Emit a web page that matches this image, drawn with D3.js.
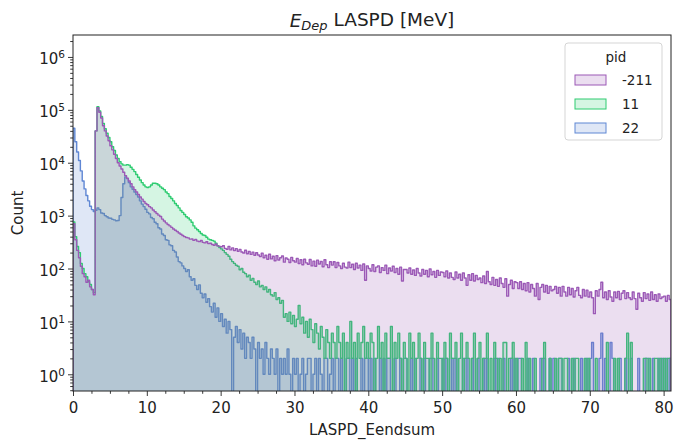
<!DOCTYPE html>
<html>
<head>
<meta charset="utf-8">
<script src="https://cdn.jsdelivr.net/npm/d3@7"></script>
<style>
body { margin: 0; background: #fff; }
text { font-family: "DejaVu Sans", sans-serif; fill: #222; }
</style>
</head>
<body>
<script>
// histogram bins: width 0.25 from 0 to 81
var binWidth = 0.25;
var xTicks = [0, 10, 20, 30, 40, 50, 60, 70, 80];
var yTicks = [1, 10, 100, 1000, 10000, 100000, 1000000];
var pids = ["-211", "11", "22"];
var colors = {"-211": "#9b59b6", "11": "#2ecc71", "22": "#5f87d4"};

var counts211 = [
  700,350,220,160,110,80,70,55,60,45,40,32,40000,110000,90000,70000,50000,40000,32000,26000,
  21000,17500,14500,12000,10000,8700,7600,6600,5700,5100,4500,4000,3500,3100,2800,2500,2250,2050,1850,1700,
  1600,1480,1400,1280,1180,1100,1020,960,860,790,730,680,640,600,560,530,500,470,445,420,
  400,385,380,360,362,340,355,330,322,338,312,305,320,296,300,285,276,290,268,262,
  258,270,240,232,262,225,245,218,238,212,230,205,196,222,190,210,185,204,178,198,
  180,168,195,160,178,150,186,152,170,140,175,145,160,172,132,158,150,130,162,140,
  132,155,124,146,118,150,128,120,148,112,138,110,144,122,136,108,146,118,104,134,
  116,134,104,130,112,100,126,106,102,132,104,120,96,126,102,116,92,122,60,112,
  100,90,118,88,106,112,84,104,92,116,80,102,90,110,84,100,78,106,58,96,
  96,82,102,78,94,74,100,82,72,96,78,92,70,98,76,88,68,92,74,86,
  84,70,90,66,82,68,62,86,66,78,60,82,66,48,76,60,80,58,74,62,
  66,54,72,52,88,56,50,68,48,62,46,66,52,44,64,30,50,60,42,56,
  54,42,56,40,52,38,54,36,50,42,30,52,26,44,50,36,48,34,46,38,
  40,46,34,44,30,46,36,30,44,32,42,29,38,44,31,28,40,30,39,29,
  36,28,14,38,30,40,55,28,36,26,38,29,24,36,28,37,26,34,38,27,
  35,28,26,36,27,17,34,28,24,35,27,33,25,36,26,32,24,33,27,29,
  30,24,31,26
];

var counts11 = [
  760,400,260,200,125,100,80,70,56,50,40,35,40000,115000,95000,75000,55000,44000,36000,30000,
  25000,20000,17000,14000,12000,10500,9500,9000,9000,9200,9000,8200,7500,6800,6000,5300,4700,4200,3800,3500,
  3400,3500,3800,4100,4100,4000,3800,3500,3300,3100,2800,2600,2300,2100,1900,1700,1550,1400,1250,1150,
  1050,950,900,830,750,640,580,540,500,460,430,420,390,360,350,340,330,300,270,250,
  235,220,200,185,170,150,135,125,115,110,95,100,85,80,70,75,60,65,55,50,
  58,45,48,40,45,36,40,32,30,35,26,28,22,25,12,14,10,15,9,13,
  8,11,20,9,12,6,10,5,11,7,4,9,6,3,8,5,2,7,4,2,
  6,4,2,8,4,2,6,0,4,2,10,2,4,0,6,2,4,8,2,4,
  2,6,4,0,2,8,2,4,0,6,2,2,8,0,4,2,6,2,0,4,
  2,0,6,2,4,0,2,6,2,0,4,2,2,0,6,2,0,4,2,2,
  0,4,2,0,6,2,2,4,0,2,6,0,2,4,2,0,2,6,0,2,
  4,0,2,2,6,0,2,0,4,2,0,2,0,4,4,0,2,2,4,0,
  2,0,0,2,0,4,0,2,0,0,2,0,0,0,2,4,0,0,2,0,
  0,2,0,2,2,0,2,2,0,0,2,0,2,2,0,0,0,2,0,2,
  0,0,0,2,0,0,0,0,0,4,0,0,0,2,0,2,0,0,0,2,
  6,0,4,0,0,0,0,0,0,2,2,0,2,0,0,2,2,0,2,0,
  2,0,2,2
];

var counts22 = [
  45000,25000,16000,11000,7000,4500,3200,2400,1900,1500,1300,1200,1260,1400,1300,1120,1100,1000,950,900,
  890,850,830,800,810,1000,2200,4000,5400,5000,4200,3500,3150,2800,2500,2250,1900,1650,1480,1320,
  1150,1080,920,870,750,700,590,560,450,420,350,340,280,270,220,205,165,135,128,112,
  100,88,95,70,60,64,48,40,49,34,28,33,23,27,19,15,22,12,18,10,
  14,8,11,6,10,7,0,5,8,4,7,3,6,2,5,4,2,5,3,0,
  4,2,3,1,4,2,1,3,2,1,3,0,2,1,2,1,3,1,0,2,
  1,2,0,1,2,0,1,2,2,0,1,2,0,2,1,0,2,2,0,1,
  2,0,2,2,0,2,0,0,2,2,0,2,0,2,0,0,2,0,2,2,
  0,2,0,2,0,0,2,0,2,0,2,2,0,0,2,0,0,2,0,2,
  2,0,0,2,0,2,0,0,2,0,2,0,0,2,2,0,0,2,0,0,
  2,0,2,0,0,2,0,2,0,0,0,2,0,2,0,0,2,0,0,2,
  0,0,2,0,2,0,0,0,2,0,2,0,0,2,0,0,0,2,0,2,
  0,2,2,0,0,0,2,0,0,2,0,0,0,2,0,2,0,0,2,0,
  2,0,0,2,2,0,0,0,2,0,0,2,0,0,0,2,0,0,2,0,
  2,4,0,0,0,2,6,0,2,0,0,4,2,0,0,0,2,0,0,2,
  0,0,2,0,0,0,2,0,0,0,2,2,0,0,2,0,0,2,0,2,
  0,2,0,2
];

var seriesCounts = {"-211": counts211, "11": counts11, "22": counts22};

//create svg
var svg = d3.select("body").append("svg")
    .attr("width", 675)
    .attr("height", 440);

var margin = {left: 73, right: 4, top: 35, bottom: 49};
var width = 675 - margin.left - margin.right;
var height = 440 - margin.top - margin.bottom;

var x = d3.scaleLinear().domain([0, 81]).range([0, width]);
var y = d3.scaleLog().domain([0.483, 2.6e6]).range([height, 0]);

var g = svg.append("g")
    .attr("transform", "translate(" + margin.left + "," + margin.top + ")");

g.append("clipPath").attr("id", "plotclip")
  .append("rect").attr("width", width).attr("height", height);

// step area; empty bins drop below the axis
var area = d3.area()
    .curve(d3.curveStepAfter)
    .x(function(d) { return x(d.x); })
    .y0(height + 6)
    .y1(function(d) { return d.c > 0 ? y(d.c) : height + 6; });

// seaborn draws the first hue level on top, so go in reverse
pids.slice().reverse().forEach(function(pid) {
  var vals = seriesCounts[pid];
  var pts = vals.map(function(c, i) { return {x: i * binWidth, c: c}; });
  pts.push({x: vals.length * binWidth, c: vals[vals.length - 1]});
  g.append("path")
    .datum(pts)
    .attr("clip-path", "url(#plotclip)")
    .attr("d", area)
    .attr("fill", colors[pid])
    .attr("fill-opacity", 0.2)
    .attr("stroke", colors[pid])
    .attr("stroke-width", 1.4)
    .attr("stroke-linejoin", "round");
});

// x axis
g.append("g")
    .attr("transform", "translate(0," + height + ")")
    .call(d3.axisBottom(x).tickValues(xTicks).tickSize(5).tickPadding(6));
var xMinor = d3.range(0, 81.01, 2.5).filter(function(v) { return v % 10 != 0; });
g.append("g")
    .attr("transform", "translate(0," + height + ")")
    .call(d3.axisBottom(x).tickValues(xMinor).tickSize(2.8).tickFormat(""));

// y axis with 10^n labels
var yAxis = g.append("g")
    .call(d3.axisLeft(y).tickValues(yTicks).tickSize(5).tickPadding(3).tickFormat(""));
yAxis.selectAll(".tick text").each(function(d) {
  var t = d3.select(this).attr("dy", "0.45em");
  t.append("tspan").text("10");
  t.append("tspan").attr("dy", "-0.55em").style("font-size", "10.5px")
    .text(Math.round(Math.log10(d)));
});
var yMinor = [];
for (var k = -1; k <= 6; k++) {
  for (var m = 2; m <= 9; m++) {
    var v = m * Math.pow(10, k);
    if (v >= 0.483 && v <= 2.6e6) yMinor.push(v);
  }
}
g.append("g")
    .call(d3.axisLeft(y).tickValues(yMinor).tickSize(2.8).tickFormat(""));

g.selectAll(".domain").remove();
g.selectAll(".tick line").attr("stroke", "#222").attr("stroke-width", 0.9);
g.selectAll(".tick text").style("font-size", "15px").attr("fill", "#222");

// frame
g.append("rect")
    .attr("width", width).attr("height", height)
    .attr("fill", "none").attr("stroke", "#222").attr("stroke-width", 1);

// axis labels
g.append("text")
    .attr("x", width / 2).attr("y", height + 44)
    .style("text-anchor", "middle").style("font-size", "15px")
    .text("LASPD_Eendsum");
g.append("text")
    .attr("transform", "rotate(-90)")
    .attr("x", -height / 2).attr("y", -50)
    .style("text-anchor", "middle").style("font-size", "15px")
    .text("Count");

// title
var title = g.append("text")
    .attr("x", width / 2).attr("y", -8)
    .style("text-anchor", "middle").style("font-size", "18.5px");
title.append("tspan").style("font-style", "italic").text("E");
title.append("tspan").style("font-style", "italic").style("font-size", "13px")
    .attr("dy", "0.25em").text("Dep");
title.append("tspan").attr("dy", "-0.25em").text(" LASPD [MeV]");

// legend
var legend = svg.append("g").attr("transform", "translate(565,43)");
legend.append("rect")
    .attr("width", 97).attr("height", 97).attr("rx", 3)
    .attr("fill", "#fff").attr("fill-opacity", 0.8)
    .attr("stroke", "#d5d5d5").attr("stroke-width", 1);
legend.append("text")
    .attr("x", 51).attr("y", 19)
    .style("text-anchor", "middle").style("font-size", "13.5px")
    .text("pid");
pids.forEach(function(pid, i) {
  var row = legend.append("g").attr("transform", "translate(10," + (32 + i * 24) + ")");
  row.append("rect")
    .attr("width", 31).attr("height", 10)
    .attr("fill", colors[pid]).attr("fill-opacity", 0.2)
    .attr("stroke", colors[pid]).attr("stroke-width", 1);
  row.append("text")
    .attr("x", 47).attr("y", 10)
    .style("font-size", "13.5px")
    .text(pid);
});
</script>
</body>
</html>
